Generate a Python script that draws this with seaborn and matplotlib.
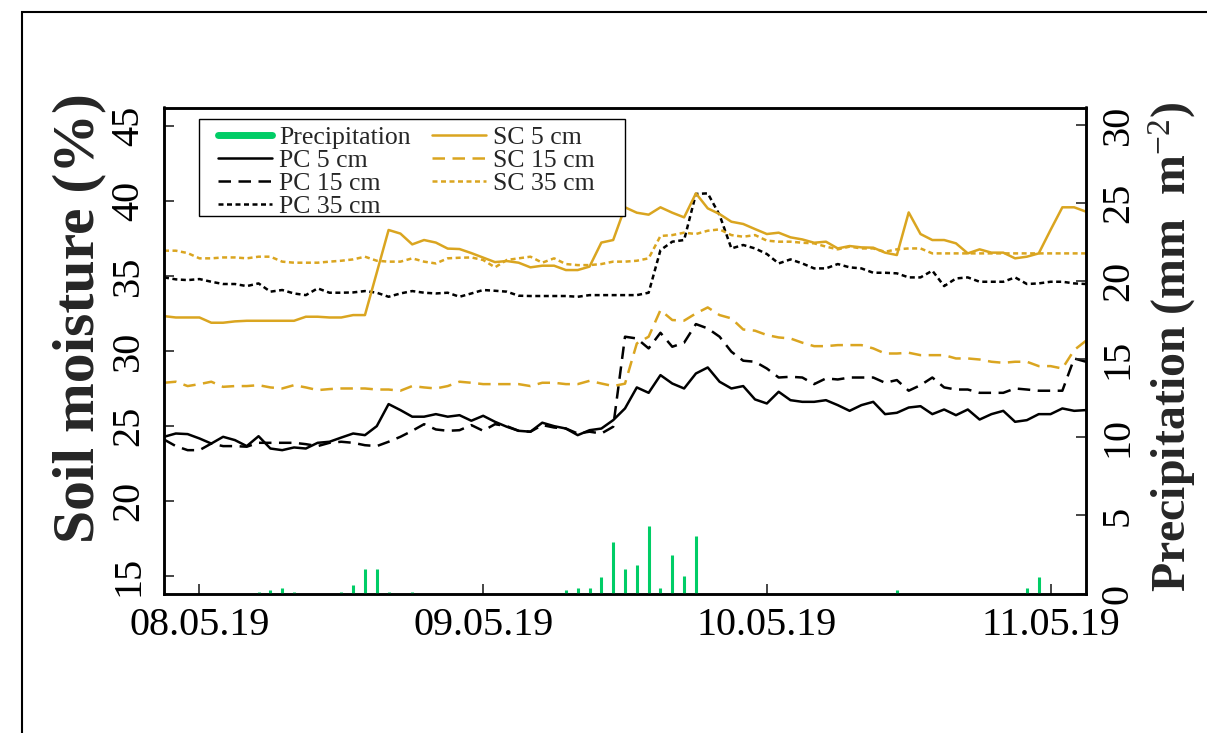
import numpy as np
import pandas as pd
import matplotlib
matplotlib.use("Agg")
import matplotlib.pyplot as plt
import matplotlib.dates as mdates
from matplotlib.lines import Line2D
from matplotlib.patches import Rectangle
import seaborn as sns

# Hourly readings, 07.05.2019 21:00 to 11.05.2019 03:00
time = pd.date_range("2019-05-07 21:00", "2019-05-11 03:00", freq="h")

pc_5 = [24.26, 24.48, 24.44, 24.15, 23.81, 24.26, 24.04, 23.64, 24.30, 23.48,
        23.37, 23.55, 23.48, 23.86, 23.93, 24.21, 24.48, 24.37, 24.97, 26.44,
        26.04, 25.60, 25.60, 25.77, 25.60, 25.70, 25.33, 25.66, 25.26, 24.93,
        24.66, 24.60, 25.20, 24.97, 24.81, 24.37, 24.70, 24.81, 25.37, 26.15,
        27.55, 27.19, 28.37, 27.81, 27.48, 28.48, 28.88, 27.93, 27.48, 27.64,
        26.75, 26.48, 27.26, 26.70, 26.59, 26.59, 26.70, 26.37, 25.99, 26.37,
        26.59, 25.77, 25.86, 26.21, 26.30, 25.77, 26.08, 25.70, 26.08, 25.41,
        25.77, 25.99, 25.26, 25.37, 25.77, 25.77, 26.15, 25.99, 26.04]

pc_15 = [24.08, 23.64, 23.37, 23.37, 23.81, 23.64, 23.64, 23.60, 23.86, 23.86,
         23.86, 23.86, 23.77, 23.64, 23.86, 23.93, 23.86, 23.70, 23.64, 23.93,
         24.26, 24.66, 25.10, 24.75, 24.66, 24.70, 25.04, 24.66, 25.10, 24.97,
         24.66, 24.60, 25.04, 24.88, 24.81, 24.48, 24.60, 24.48, 24.93, 30.93,
         30.81, 30.15, 31.19, 30.26, 30.53, 31.77, 31.48, 30.93, 29.93, 29.33,
         29.26, 28.81, 28.21, 28.26, 28.21, 27.77, 28.15, 28.08, 28.21, 28.21,
         28.21, 27.86, 28.04, 27.33, 27.70, 28.21, 27.55, 27.41, 27.41, 27.19,
         27.19, 27.19, 27.48, 27.41, 27.33, 27.33, 27.33, 29.48, 29.26]

pc_35 = [34.88, 34.75, 34.70, 34.77, 34.59, 34.44, 34.44, 34.30, 34.48, 33.93,
         34.04, 33.81, 33.70, 34.15, 33.86, 33.86, 33.88, 33.97, 33.86, 33.59,
         33.81, 33.97, 33.86, 33.81, 33.86, 33.59, 33.81, 34.04, 33.99, 33.93,
         33.66, 33.64, 33.64, 33.64, 33.64, 33.59, 33.70, 33.70, 33.70, 33.70,
         33.70, 33.86, 36.70, 37.26, 37.37, 40.44, 40.48, 39.04, 36.81, 37.04,
         36.81, 36.44, 35.81, 36.08, 35.81, 35.48, 35.48, 35.77, 35.55, 35.48,
         35.19, 35.19, 35.15, 34.88, 34.88, 35.33, 34.30, 34.81, 34.88, 34.59,
         34.59, 34.59, 34.88, 34.44, 34.48, 34.59, 34.59, 34.48, 34.44]

sc_5 = [32.30, 32.21, 32.21, 32.21, 31.86, 31.86, 31.95, 31.99, 31.99, 31.99,
        31.99, 31.99, 32.26, 32.26, 32.21, 32.21, 32.37, 32.37, 35.20, 38.04,
        37.80, 37.08, 37.37, 37.20, 36.80, 36.77, 36.50, 36.20, 35.90, 35.97,
        35.86, 35.55, 35.66, 35.66, 35.37, 35.37, 35.60, 37.20, 37.37, 39.55,
        39.19, 39.06, 39.55, 39.19, 38.88, 40.48, 39.48, 39.10, 38.59, 38.44,
        38.10, 37.77, 37.86, 37.55, 37.41, 37.19, 37.26, 36.81, 36.97, 36.88,
        36.86, 36.53, 36.37, 39.21, 37.77, 37.37, 37.37, 37.15, 36.48, 36.75,
        36.53, 36.53, 36.15, 36.26, 36.48, 38.04, 39.55, 39.55, 39.26]

sc_15 = [27.86, 27.93, 27.64, 27.77, 27.93, 27.59, 27.64, 27.64, 27.70, 27.55,
         27.48, 27.70, 27.55, 27.37, 27.44, 27.48, 27.48, 27.48, 27.41, 27.41,
         27.33, 27.64, 27.55, 27.48, 27.64, 27.93, 27.86, 27.77, 27.77, 27.77,
         27.77, 27.64, 27.86, 27.86, 27.77, 27.77, 27.99, 27.81, 27.64, 27.80,
         30.48, 30.93, 32.70, 32.04, 32.00, 32.48, 32.88, 32.37, 32.15, 31.41,
         31.33, 31.04, 30.88, 30.81, 30.53, 30.30, 30.30, 30.37, 30.37, 30.37,
         30.15, 29.81, 29.81, 29.86, 29.70, 29.70, 29.70, 29.48, 29.48, 29.41,
         29.26, 29.19, 29.26, 29.26, 28.97, 28.97, 28.81, 30.04, 30.66]

sc_35 = [36.66, 36.66, 36.50, 36.15, 36.15, 36.21, 36.21, 36.15, 36.26, 36.26,
         35.93, 35.86, 35.86, 35.86, 35.93, 35.99, 36.08, 36.26, 35.99, 35.93,
         35.93, 36.15, 35.93, 35.81, 36.15, 36.19, 36.21, 36.04, 35.55, 36.04,
         36.15, 36.26, 35.86, 36.15, 35.77, 35.70, 35.70, 35.77, 35.93, 35.93,
         35.99, 36.15, 37.64, 37.70, 37.86, 37.77, 37.99, 38.08, 37.70, 37.59,
         37.70, 37.33, 37.26, 37.26, 37.19, 37.15, 36.93, 36.75, 36.93, 36.81,
         36.81, 36.59, 36.75, 36.81, 36.81, 36.48, 36.48, 36.48, 36.48, 36.48,
         36.48, 36.48, 36.48, 36.48, 36.48, 36.48, 36.48, 36.48, 36.48]

precipitation = [0, 0, 0, 0, 0, 0, 0, 0, 0.10, 0.20,
                 0.35, 0.10, 0, 0, 0, 0.10, 0.55, 1.55, 1.55, 0.10,
                 0, 0.10, 0, 0, 0, 0, 0, 0, 0, 0,
                 0, 0, 0, 0, 0.20, 0.35, 0.35, 1.06, 3.30, 1.55,
                 1.82, 4.32, 0.37, 2.44, 1.14, 3.70, 0, 0, 0, 0,
                 0, 0, 0, 0, 0, 0, 0, 0, 0, 0,
                 0, 0, 0.22, 0, 0, 0, 0, 0, 0, 0,
                 0, 0, 0, 0.33, 1.06, 0, 0, 0, 0]

sites = ["PC", "SC"]
depths = ["5 cm", "15 cm", "35 cm"]
series = {("PC", "5 cm"): pc_5, ("PC", "15 cm"): pc_15, ("PC", "35 cm"): pc_35,
          ("SC", "5 cm"): sc_5, ("SC", "15 cm"): sc_15, ("SC", "35 cm"): sc_35}

GOLD = "#DAA520"
GREEN = "#00CD66"
LW = 1.8
palette = {"PC": "black", "SC": GOLD}
dash_styles = {"5 cm": "", "15 cm": (5, 3), "35 cm": (2, 1.4)}

df = pd.concat(
    [pd.DataFrame({"time": time, "moisture": vals, "site": s, "depth": d})
     for (s, d), vals in series.items()],
    ignore_index=True,
)

sns.set_style("ticks")
plt.rcParams["font.family"] = ["Liberation Serif", "DejaVu Serif"]
plt.rcParams["mathtext.fontset"] = "custom"
plt.rcParams["mathtext.rm"] = "Liberation Serif"
plt.rcParams["mathtext.default"] = "rm"

fig = plt.figure(figsize=(12.07, 7.33), dpi=100)
W, H = 1207, 733
ax = fig.add_axes([164 / W, 1 - 593.5 / H, (1086 - 164) / W, (593.5 - 107.5) / H])
ax2 = ax.twinx()

# soil moisture lines
sns.lineplot(data=df, x="time", y="moisture", hue="site", style="depth",
             palette=palette, dashes=dash_styles, hue_order=sites,
             style_order=depths, estimator=None, linewidth=LW,
             legend=False, ax=ax)

# precipitation as thin vertical bars on the secondary axis
ax2.vlines(time, 0, precipitation, color=GREEN, linewidth=2.2)

ax.set_xlim(time[0], time[-1])
ax.set_ylim(13.82, 46.2)
ax2.set_ylim(0, 31.11)

ax.set_yticks([15, 20, 25, 30, 35, 40, 45])
ax2.set_yticks([0, 5, 10, 15, 20, 25, 30])
ax.xaxis.set_major_locator(mdates.DayLocator())
ax.xaxis.set_major_formatter(mdates.DateFormatter("%d.%m.%y"))
ax.set_xlabel("")

for a in (ax, ax2):
    for sp in a.spines.values():
        sp.set_linewidth(1.8)
        sp.set_color("black")

ax.tick_params(axis="x", direction="in", length=7, width=1.2, labelsize=29,
               pad=10, labelcolor="black")
ax.tick_params(axis="y", direction="in", length=7, width=1.2, labelsize=29,
               pad=12, labelrotation=90, labelcolor="black")
ax2.tick_params(axis="y", direction="in", length=7, width=1.2, labelsize=29,
                pad=10, labelrotation=90, labelcolor="black")
plt.setp(ax.get_yticklabels(), va="center")
plt.setp(ax2.get_yticklabels(), va="center")

ax.set_ylabel("Soil moisture (%)", fontsize=43, fontweight="bold")
ax.yaxis.set_label_coords(-0.063, 0.567)
ax2.set_ylabel("Precipitation (mm  m$^{-2}$)", fontsize=34.5, fontweight="bold")
ax2.yaxis.set_label_coords(1.066, 0.508)

handles = [
    Line2D([], [], color=GREEN, lw=5, solid_capstyle="round"),
    Line2D([], [], color="black", lw=LW),
    Line2D([], [], color="black", lw=LW, dashes=dash_styles["15 cm"]),
    Line2D([], [], color="black", lw=LW, dashes=dash_styles["35 cm"]),
    Line2D([], [], color=GOLD, lw=LW),
    Line2D([], [], color=GOLD, lw=LW, dashes=dash_styles["15 cm"]),
    Line2D([], [], color=GOLD, lw=LW, dashes=dash_styles["35 cm"]),
]
labels = ["Precipitation", "PC 5 cm", "PC 15 cm", "PC 35 cm",
          "SC 5 cm", "SC 15 cm", "SC 35 cm"]
leg = ax2.legend(handles, labels, ncol=2, loc="upper left",
                 bbox_to_anchor=(0.050, 0.978), fontsize=18.5, frameon=False,
                 labelspacing=0.0, handlelength=2.1, handletextpad=0.3,
                 columnspacing=0.8, borderpad=0.3, borderaxespad=0)

# legend box with wider side margins
ax2.add_patch(Rectangle((0.038, 0.777), 0.462, 0.199, transform=ax2.transAxes,
                        fill=True, fc="white", ec="black", lw=1.0, zorder=4))
leg.set_zorder(5)

fig.patches.append(Rectangle((22 / W, -0.1), 1.2, 1 - 12 / H + 0.1,
                             transform=fig.transFigure, fill=False,
                             lw=1.5, ec="black"))

fig.savefig("out.png", dpi=100)
